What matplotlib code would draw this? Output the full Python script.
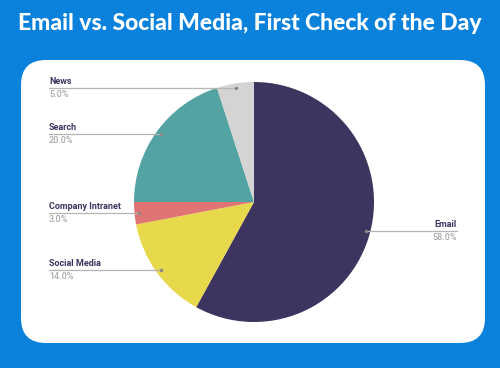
import numpy as np
import matplotlib.pyplot as plt
from matplotlib.patches import FancyBboxPatch

# data (clockwise from 12 o'clock)
labels = ['Email', 'Social Media', 'Company Intranet', 'Search', 'News']
shares = [58.0, 14.0, 3.0, 20.0, 5.0]
colors = ['#3d3460', '#e8d84c', '#e07474', '#52a3a1', '#d4d4d4']

title = 'Email vs. Social Media, First Check of the Day'

W, H = 500, 368
fig = plt.figure(figsize=(W / 100, H / 100), dpi=100)
fig.patch.set_facecolor('#0a82dc')
ax = fig.add_axes([0, 0, 1, 1])

# white card
card = FancyBboxPatch((21 + 25, 25 + 25), 464 - 50, 283 - 50,
                      boxstyle='round,pad=25', fc='white', ec='none')
ax.add_patch(card)

ax.text(W / 2, H - 23, title, ha='center', va='center', color='white',
        fontsize=16.5, fontweight='black', family=['Lato', 'DejaVu Sans'])

cx, cy, r = 254, H - 202, 120
wedges, _ = ax.pie(shares, colors=colors, startangle=90, counterclock=False,
                   center=(cx, cy), radius=r, frame=True,
                   wedgeprops=dict(linewidth=0))
ax.set_xlim(0, W)
ax.set_ylim(0, H)
ax.set_aspect('equal')
ax.axis('off')

name_col = '#3d3460'
pct_col = '#a8a8a8'
for w, lab, val in zip(wedges, labels, shares):
    mid = np.deg2rad((w.theta1 + w.theta2) / 2)
    px = cx + 0.96 * r * np.cos(mid)
    py = cy + 0.96 * r * np.sin(mid)
    if px > cx:
        x0, x1, tx, ha = px, 457, 457, 'right'
    else:
        x0, x1, tx, ha = 49, px, 49, 'left'
    ax.plot([x0, x1], [py, py], color='#b5b5b5', lw=0.9)
    ax.plot([px], [py], 'o', color='#888888', ms=1.5)
    ax.text(tx, py + 2, lab, ha=ha, va='bottom', fontsize=6.5,
            fontweight='bold', color=name_col, family='Roboto')
    ax.text(tx, py - 2, f'{val:.1f}%', ha=ha, va='top', fontsize=6.5,
            fontweight='medium', color=pct_col, family='Roboto')

fig.savefig('out.png', dpi=100, facecolor=fig.get_facecolor())
